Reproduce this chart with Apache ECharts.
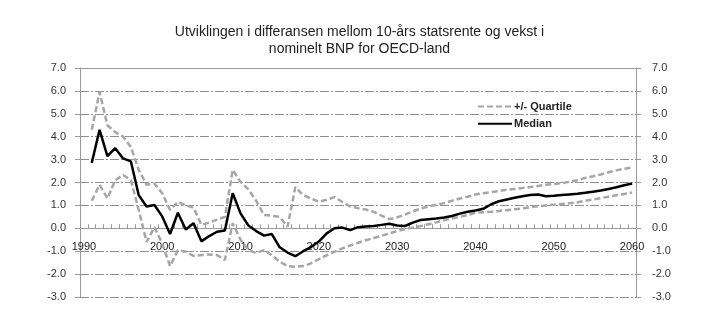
<!DOCTYPE html>
<html>
<head>
<meta charset="utf-8">
<script src="https://cdn.jsdelivr.net/npm/echarts@6/dist/echarts.min.js"></script>
<style>
html,body{margin:0;padding:0;background:#fff;}
#c{width:719px;height:327px;}
</style>
</head>
<body>
<div id="c"></div>
<script>
var titleText = 'Utviklingen i differansen mellom 10-års statsrente og vekst i\nnominelt BNP for OECD-land';
var years = ['1990','1991','1992','1993','1994','1995','1996','1997','1998','1999',
  '2000','2001','2002','2003','2004','2005','2006','2007','2008','2009',
  '2010','2011','2012','2013','2014','2015','2016','2017','2018','2019',
  '2020','2021','2022','2023','2024','2025','2026','2027','2028','2029',
  '2030','2031','2032','2033','2034','2035','2036','2037','2038','2039',
  '2040','2041','2042','2043','2044','2045','2046','2047','2048','2049',
  '2050','2051','2052','2053','2054','2055','2056','2057','2058','2059','2060'];
var yTicks = [-3, -2, -1, 0, 1, 2, 3, 4, 5, 6, 7];

var median = [null,
  2.85, 4.3, 3.15, 3.5, 3.05, 2.92, 1.45, 0.95, 1.02,
  0.52, -0.25, 0.68, -0.05, 0.22, -0.57, -0.34, -0.15, -0.1, 1.53,
  0.65, 0.12, -0.12, -0.32, -0.25, -0.83, -1.06, -1.22, -1.0, -0.82,
  -0.58, -0.22, 0.0, 0.03, -0.08, 0.05, 0.08, 0.1, 0.15, 0.2,
  0.12, 0.1, 0.25, 0.36, 0.4, 0.43, 0.47, 0.54, 0.64, 0.72,
  0.78, 0.85, 1.05, 1.18, 1.26, 1.33, 1.4, 1.45, 1.48, 1.4,
  1.42, 1.45, 1.48, 1.51, 1.55, 1.6, 1.65, 1.72, 1.79, 1.88, 1.96];

var upperQuartile = [null,
  4.3, 5.95, 4.5, 4.2, 4.0, 3.55, 2.55, 1.9, 1.96,
  1.53, 0.8, 1.16, 1.0, 0.9, 0.15, 0.25, 0.38, 0.5, 2.55,
  2.03, 1.7, 1.2, 0.58, 0.55, 0.5, 0.07, 1.8, 1.45, 1.3,
  1.16, 1.25, 1.36, 1.15, 0.95, 0.88, 0.82, 0.72, 0.55, 0.4,
  0.48, 0.6, 0.74, 0.86, 0.95, 1.03, 1.1, 1.2, 1.3, 1.38,
  1.48, 1.53, 1.58, 1.63, 1.68, 1.72, 1.76, 1.8, 1.85, 1.9,
  1.93, 1.97, 2.03, 2.1, 2.2, 2.27, 2.35, 2.45, 2.53, 2.6, 2.66];

var lowerQuartile = [null,
  1.2, 1.9, 1.3, 2.1, 2.33, 2.1, 0.8, -0.6, 0.05,
  -0.66, -1.65, -0.95, -1.02, -1.2, -1.17, -1.14, -1.17, -1.38, 0.22,
  -0.5, -0.95, -1.08, -0.95, -1.17, -1.46, -1.65, -1.68, -1.65, -1.53,
  -1.35, -1.18, -1.02, -0.88, -0.75, -0.63, -0.52, -0.42, -0.33, -0.22,
  -0.12, -0.04, 0.03, 0.1, 0.18, 0.26, 0.35, 0.43, 0.5, 0.58,
  0.68, 0.7, 0.72, 0.76, 0.79, 0.83, 0.87, 0.92, 0.96, 1.0,
  1.03, 1.06, 1.09, 1.13, 1.2, 1.26, 1.32, 1.38, 1.44, 1.5, 1.56];

var baseFont = "'Liberation Sans', Arial, sans-serif";
var axisGray = '#9a9a9a';
var quartColor = '#a6a6a6';

// grid geometry: 10 units over 229 px; x axis drawn at value 0
var gridTop = 68, gridHeight = 229;
var yMin = yTicks[0], yMax = yTicks[yTicks.length - 1];
var zeroOffset = -gridHeight * (0 - yMin) / (yMax - yMin);

var chart = echarts.init(document.getElementById('c'), null, {renderer: 'canvas'});
var yAxisCommon = {
  type: 'value',
  min: yMin,
  max: yMax,
  interval: 1,
  axisLine: {show: true, lineStyle: {color: axisGray, width: 1}},
  axisTick: {show: true, inside: false, length: 5, lineStyle: {color: axisGray}},
  axisLabel: {
    fontFamily: baseFont,
    fontSize: 11,
    color: '#333',
    formatter: function (v) { return v.toFixed(1); }
  }
};
chart.setOption({
  animation: false,
  backgroundColor: '#fff',
  title: {
    text: titleText,
    left: 'center',
    top: 19,
    textStyle: {
      fontFamily: baseFont,
      fontSize: 14,
      fontWeight: 'normal',
      color: '#222',
      lineHeight: 17
    }
  },
  legend: {
    left: 472,
    top: 96,
    orient: 'vertical',
    itemWidth: 34,
    itemHeight: 14,
    itemGap: 6,
    itemStyle: {opacity: 0},
    data: ['+/- Quartile', 'Median'],
    textStyle: {
      fontFamily: baseFont,
      fontSize: 11,
      fontWeight: 'bold',
      color: '#222',
      padding: [0, 0, 0, -3]
    }
  },
  grid: {left: 80, right: 83, top: gridTop, height: gridHeight},
  xAxis: [{
    type: 'category',
    data: years,
    boundaryGap: true,
    position: 'bottom',
    offset: zeroOffset,
    axisLine: {show: true, onZero: false, lineStyle: {color: axisGray, width: 1}},
    axisTick: {show: true, inside: true, length: 4, interval: 0, lineStyle: {color: axisGray}},
    axisLabel: {
      interval: 9,
      margin: 13,
      fontFamily: baseFont,
      fontSize: 11,
      color: '#222'
    },
    splitLine: {show: false}
  }, {
    type: 'category',
    data: years,
    position: 'top',
    boundaryGap: true,
    axisLine: {show: true, onZero: false, lineStyle: {color: axisGray, width: 1}},
    axisTick: {show: false},
    axisLabel: {show: false},
    splitLine: {show: false}
  }],
  yAxis: [
    Object.assign({}, yAxisCommon, {
      position: 'left',
      axisLabel: Object.assign({}, yAxisCommon.axisLabel, {margin: 14}),
      splitLine: {show: true, lineStyle: {color: '#8f8f8f', width: 1, type: [9, 2, 2, 2]}}
    }),
    Object.assign({}, yAxisCommon, {
      position: 'right',
      axisLabel: Object.assign({}, yAxisCommon.axisLabel, {margin: 16}),
      splitLine: {show: false}
    })
  ],
  series: [
    {
      name: '+/- Quartile',
      type: 'line',
      data: upperQuartile,
      symbol: 'none',
      lineStyle: {color: quartColor, width: 2.5, type: [6, 3]},
      itemStyle: {color: quartColor},
      z: 2
    },
    {
      name: '+/- Quartile',
      type: 'line',
      data: lowerQuartile,
      symbol: 'none',
      lineStyle: {color: quartColor, width: 2.5, type: [6, 3]},
      itemStyle: {color: quartColor},
      z: 2
    },
    {
      name: 'Median',
      type: 'line',
      data: median,
      symbol: 'none',
      lineStyle: {color: '#000', width: 2.5},
      itemStyle: {color: '#000'},
      z: 3
    }
  ]
});
</script>
</body>
</html>
